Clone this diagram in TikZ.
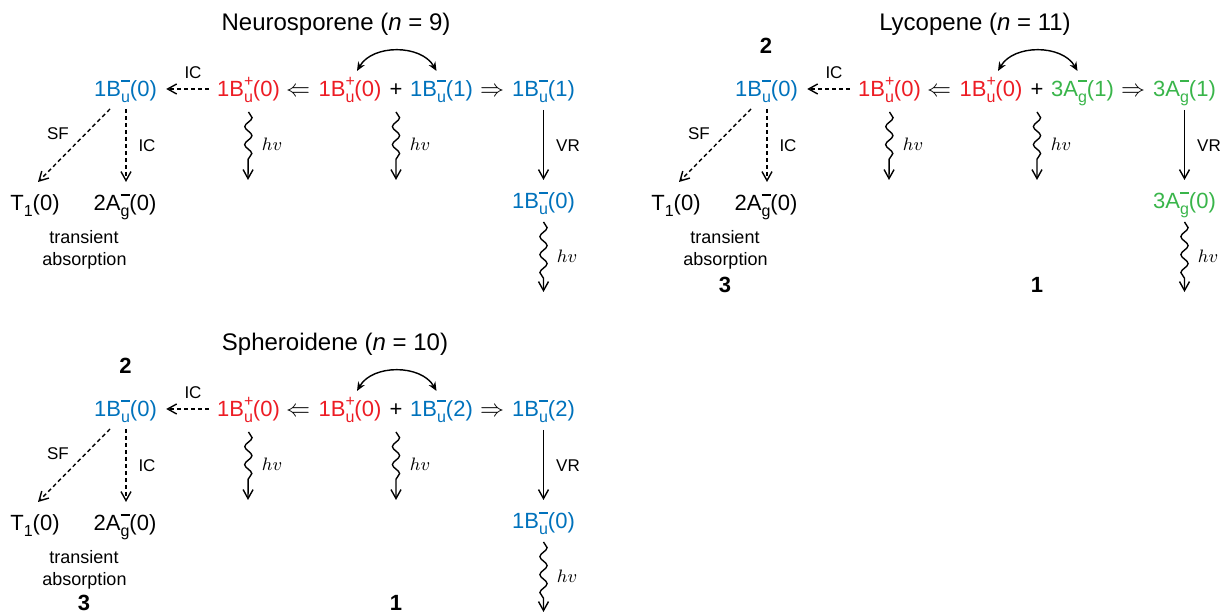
\documentclass[tikz,border=0pt]{standalone}
\usepackage{fontspec}
\setmainfont{Liberation Sans}
\usetikzlibrary{arrows.meta,decorations.pathmorphing}

\definecolor{bublue}{RGB}{0,114,188}
\definecolor{bured}{RGB}{237,28,36}
\definecolor{aggreen}{RGB}{57,181,74}

% state labels: term, symmetry, sign, vibrational level
\newcommand\sgnm{\rule[7.3pt]{4.6pt}{1pt}}
\newcommand\sgnp{\raisebox{5.4pt}{\fontsize{8}{8}\selectfont +}}
\newcommand\lev[4]{#1\makebox[0pt][l]{#3}\raisebox{-2.8pt}{\fontsize{8}{8}\selectfont #2}(#4)}

\tikzset{
  lvl/.style={anchor=base,inner sep=0pt,font=\fontsize{11}{13}\selectfont},
  dbl/.style={anchor=base,inner sep=0pt,font=\fontsize{12}{13}\selectfont},
  ttl/.style={anchor=base,inner sep=0pt,font=\fontsize{12}{14}\selectfont},
  lbl/.style={anchor=base,inner sep=0pt,font=\fontsize{8.5}{10}\selectfont},
  note/.style={anchor=base,inner sep=0pt,font=\fontsize{9}{11}\selectfont},
  hvl/.style={anchor=base,inner sep=0pt,font=\fontsize{9}{10}\selectfont},
  num/.style={anchor=base,inner sep=0pt,font=\fontsize{11}{13}\selectfont\bfseries},
  barb/.style={line width=0.7pt,-{Straight Barb[length=4.5pt,width=5pt]}},
  icdash/.style={barb,dash pattern=on 2pt off 1.5pt},
  wavy/.style={barb,decorate,decoration={snake,amplitude=1.8pt,segment length=9pt,post length=6pt}},
  xchg/.style={line width=0.7pt,{Stealth[length=4.5pt,width=3.8pt]}-{Stealth[length=4.5pt,width=3.8pt]}}
}

\begin{document}
\begin{tikzpicture}[x=0.5pt,y=0.5pt]
\useasboundingbox (0,0) rectangle (1222,-613);

% titles
\node[ttl] (tN) at (336,-31) {Neurosporene (\textit{n} = 9)};
\node[ttl] (tL) at (975,-31) {Lycopene (\textit{n} = 11)};
\node[ttl] (tS) at (335,-351) {Spheroidene (\textit{n} = 10)};

% one scheme per carotenoid
\foreach \p/\dx/\dy/\col/\term/\sym/\v in {N/0/0/bublue/1B/u/1, L/641/0/aggreen/3A/g/1, S/0/-320/bublue/1B/u/2} {
\begin{scope}[shift={(\dx,\dy)}]
\node[lvl,text=bublue] (\p1m) at (125.5,-97) {\lev{1B}{u}{\sgnm}{0}};
\node[lvl,text=bured] (\p1p) at (248.5,-97) {\lev{1B}{u}{\sgnp}{0}};
\node[dbl] (\p larr) at (298,-97) {$\Leftarrow$};
\node[lvl,text=bured] (\p2p) at (350,-97) {\lev{1B}{u}{\sgnp}{0}};
\node[lvl] (\p plus) at (396,-97) {+};
\node[lvl,text=\col] (\p2m) at (441.5,-97) {\lev{\term}{\sym}{\sgnm}{\v}};
\node[dbl] (\p rarr) at (492,-97) {$\Rightarrow$};
\node[lvl,text=\col] (\p3m) at (543.5,-97) {\lev{\term}{\sym}{\sgnm}{\v}};
\node[lvl,text=\col] (\p4m) at (543.5,-209) {\lev{\term}{\sym}{\sgnm}{0}};
\node[lvl] (\p T) at (35,-211) {T\raisebox{-2.8pt}{\fontsize{8}{8}\selectfont 1}(0)};
\node[lvl] (\p A) at (125,-211) {\lev{2A}{g}{\sgnm}{0}};
\node[note] (\p tr) at (84,-244) {transient};
\node[note] (\p ab) at (84.5,-266) {absorption};
\node[lbl] (\p ic) at (193,-79) {IC};
\node[lbl] (\p sf) at (58,-140) {SF};
\node[lbl] (\p icb) at (147,-152) {IC};
\node[lbl] (\p vr) at (568,-152) {VR};
\node[hvl] (\p hva) at (272,-151) {$hv$};
\node[hvl] (\p hvb) at (420,-151) {$hv$};
\node[hvl] (\p hvc) at (567,-263) {$hv$};
\coordinate (\p ea) at (248,-180);
\coordinate (\p eb) at (396,-180);
\coordinate (\p ec) at (543.5,-292);
\draw[icdash] ([xshift=-4pt,yshift=4pt]\p1p.base west) -- ([xshift=4.5pt,yshift=4pt]\p1m.base east);
\draw[icdash] ([xshift=-7.75pt,yshift=-6pt]\p1m.base) -- ([xshift=1.5pt,yshift=14.5pt]\p T.base);
\draw[icdash] ([xshift=0.25pt,yshift=-6pt]\p1m.base) -- ([xshift=0.5pt,yshift=14.5pt]\p A.base);
\draw[wavy] ([yshift=-7.5pt]\p1p.base) -- (\p ea);
\draw[wavy] ([yshift=-7.5pt]\p plus.base) -- (\p eb);
\draw[barb] ([yshift=-6.5pt]\p3m.base) -- ([yshift=14.5pt]\p4m.base);
\draw[wavy] ([yshift=-6.5pt]\p4m.base) -- (\p ec);
\draw[xchg] ([xshift=3.5pt,yshift=13pt]\p2p.base) to[bend left=60] ([xshift=-2.5pt,yshift=13pt]\p2m.base);
\end{scope}
}

% compound numbers
\node[num] (L2) at (766,-54) {2};
\node[num] (L3) at (725,-293) {3};
\node[num] (L1) at (1037,-293) {1};
\node[num] (S2) at (125.5,-374) {2};
\node[num] (S3) at (84,-611) {3};
\node[num] (S1) at (396,-611) {1};
\end{tikzpicture}
\end{document}
